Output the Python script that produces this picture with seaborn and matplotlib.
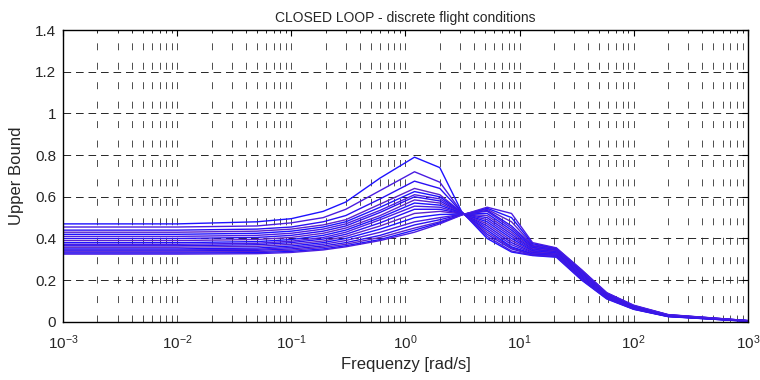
import numpy as np
import pandas as pd
import matplotlib
matplotlib.use("Agg")
import matplotlib.pyplot as plt
import seaborn as sns

# frequency points (rad/s) shared by all flight conditions
freq = [0.001, 0.01, 0.05, 0.1, 0.19, 0.3, 0.6, 1.2, 2.0, 3.1,
        5.2, 8.5, 13, 21, 35, 58, 100, 200, 1000]

# upper bound per flight condition
fc01 = [0.47, 0.47, 0.48, 0.495, 0.53, 0.575, 0.69, 0.79, 0.74, 0.53, 0.40, 0.335, 0.318, 0.31, 0.20, 0.11, 0.06, 0.025, 0.003]
fc02 = [0.455, 0.455, 0.46, 0.475, 0.50, 0.54, 0.63, 0.72, 0.67, 0.528, 0.41, 0.34, 0.32, 0.313, 0.203, 0.112, 0.061, 0.026, 0.003]
fc03 = [0.44, 0.44, 0.445, 0.455, 0.48, 0.51, 0.59, 0.675, 0.64, 0.527, 0.42, 0.35, 0.322, 0.316, 0.206, 0.114, 0.062, 0.026, 0.003]
fc04 = [0.43, 0.43, 0.435, 0.445, 0.465, 0.49, 0.565, 0.64, 0.61, 0.526, 0.43, 0.355, 0.324, 0.318, 0.209, 0.116, 0.063, 0.027, 0.004]
fc05 = [0.42, 0.42, 0.425, 0.435, 0.455, 0.48, 0.55, 0.625, 0.60, 0.525, 0.44, 0.36, 0.327, 0.321, 0.212, 0.118, 0.064, 0.027, 0.004]
fc06 = [0.41, 0.41, 0.415, 0.425, 0.445, 0.47, 0.535, 0.61, 0.59, 0.524, 0.45, 0.37, 0.33, 0.324, 0.215, 0.12, 0.065, 0.028, 0.004]
fc07 = [0.40, 0.40, 0.405, 0.415, 0.435, 0.46, 0.525, 0.60, 0.58, 0.523, 0.46, 0.38, 0.334, 0.327, 0.218, 0.122, 0.066, 0.028, 0.004]
fc08 = [0.39, 0.39, 0.395, 0.405, 0.425, 0.45, 0.51, 0.585, 0.57, 0.522, 0.47, 0.39, 0.338, 0.33, 0.221, 0.124, 0.067, 0.029, 0.004]
fc09 = [0.38, 0.38, 0.385, 0.395, 0.415, 0.44, 0.50, 0.57, 0.56, 0.521, 0.48, 0.40, 0.342, 0.333, 0.224, 0.126, 0.068, 0.029, 0.004]
fc10 = [0.372, 0.372, 0.377, 0.387, 0.405, 0.43, 0.49, 0.555, 0.55, 0.52, 0.49, 0.41, 0.346, 0.336, 0.227, 0.128, 0.069, 0.030, 0.005]
fc11 = [0.365, 0.365, 0.37, 0.38, 0.397, 0.42, 0.475, 0.54, 0.54, 0.519, 0.50, 0.42, 0.35, 0.339, 0.23, 0.13, 0.07, 0.030, 0.005]
fc12 = [0.358, 0.358, 0.362, 0.372, 0.388, 0.41, 0.46, 0.52, 0.53, 0.518, 0.51, 0.43, 0.354, 0.342, 0.233, 0.131, 0.071, 0.031, 0.005]
fc13 = [0.35, 0.35, 0.354, 0.364, 0.38, 0.40, 0.445, 0.50, 0.515, 0.517, 0.52, 0.44, 0.358, 0.345, 0.236, 0.133, 0.073, 0.032, 0.005]
fc14 = [0.345, 0.345, 0.348, 0.357, 0.372, 0.39, 0.43, 0.48, 0.50, 0.516, 0.53, 0.45, 0.362, 0.347, 0.239, 0.135, 0.075, 0.032, 0.005]
fc15 = [0.34, 0.34, 0.343, 0.35, 0.364, 0.38, 0.415, 0.465, 0.49, 0.515, 0.535, 0.46, 0.366, 0.349, 0.242, 0.136, 0.076, 0.033, 0.006]
fc16 = [0.335, 0.335, 0.337, 0.344, 0.357, 0.372, 0.405, 0.45, 0.48, 0.514, 0.54, 0.48, 0.37, 0.351, 0.245, 0.137, 0.077, 0.034, 0.006]
fc17 = [0.33, 0.33, 0.332, 0.338, 0.35, 0.365, 0.395, 0.44, 0.475, 0.513, 0.545, 0.50, 0.375, 0.353, 0.248, 0.139, 0.078, 0.034, 0.006]
fc18 = [0.325, 0.325, 0.327, 0.333, 0.345, 0.36, 0.39, 0.43, 0.47, 0.512, 0.55, 0.52, 0.38, 0.355, 0.25, 0.14, 0.08, 0.035, 0.006]

conditions = [fc01, fc02, fc03, fc04, fc05, fc06, fc07, fc08, fc09,
              fc10, fc11, fc12, fc13, fc14, fc15, fc16, fc17, fc18]

# long table for seaborn
rows = []
for k, vals in enumerate(conditions):
    for w, v in zip(freq, vals):
        rows.append({"fc": k, "freq": w, "ub": v})
df = pd.DataFrame(rows)

sns.set_style("white")
plt.rcParams["font.family"] = ["Liberation Sans", "DejaVu Sans"]
plt.rcParams["mathtext.fontset"] = "custom"
plt.rcParams["mathtext.rm"] = "Liberation Sans"
plt.rcParams["lines.scale_dashes"] = False

# cases alternate between blue and blue-violet
shades = ["#1e12ff", "#4a1ce0", "#2a10f4", "#5a22cc"]
palette = [shades[i % len(shades)] for i in range(len(conditions))]

fig = plt.figure(figsize=(7.6, 3.8), dpi=100)
ax = fig.add_axes([0.083, 0.153, 0.901, 0.768])

sns.lineplot(data=df, x="freq", y="ub", hue="fc", palette=palette,
             linewidth=1.0, legend=False, ax=ax, sort=True, estimator=None)

ax.set_xscale("log")
ax.set_xlim(1e-3, 1e3)
ax.set_ylim(0, 1.4)
ax.set_yticks(np.arange(0, 1.41, 0.2))
ax.set_yticklabels(["0", "0.2", "0.4", "0.6", "0.8", "1", "1.2", "1.4"])

# dashed grid, matlab style
ax.grid(True, which="major", axis="y", color="0.15", linewidth=0.7, linestyle=(0, (5.5, 3.5)))
ax.grid(True, which="both", axis="x", color="0.3", linewidth=0.7, linestyle=(0, (5, 9)))
ax.set_axisbelow(True)

for s in ax.spines.values():
    s.set_color("black")
    s.set_linewidth(1.0)
ax.tick_params(which="both", direction="in", top=True, right=True, color="black")
ax.tick_params(axis="y", labelsize=11, pad=5)
ax.tick_params(axis="x", labelsize=11, pad=8)
ax.tick_params(which="major", length=4)
ax.tick_params(which="minor", length=2.5)

ax.set_title("CLOSED LOOP - discrete flight conditions", fontsize=10, pad=6)
ax.set_xlabel("Frequenzy [rad/s]", fontsize=12, labelpad=4)
ax.set_ylabel("Upper Bound", fontsize=12, labelpad=8)

fig.savefig("out.png", dpi=100)
